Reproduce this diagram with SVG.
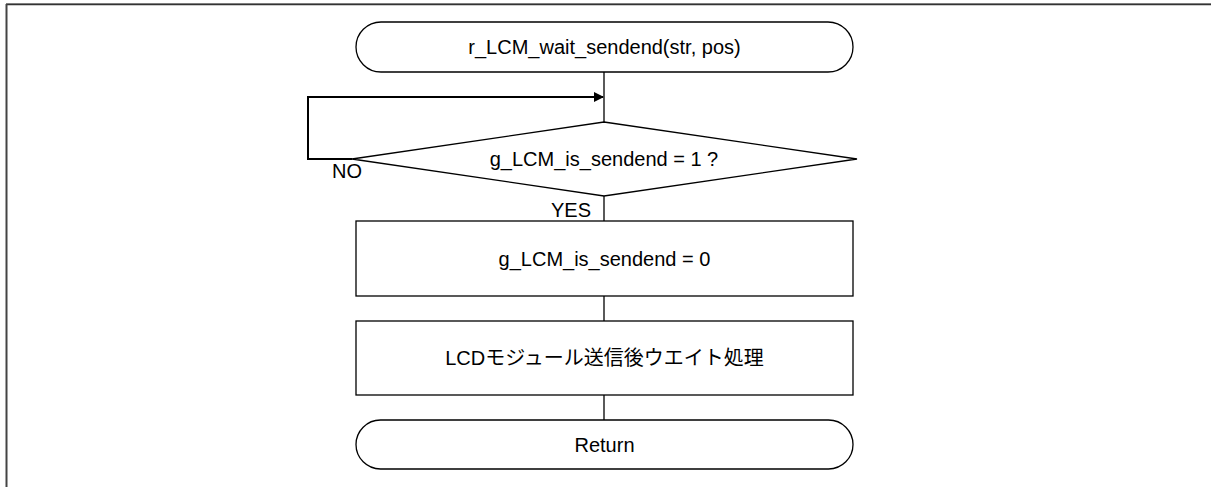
<svg xmlns="http://www.w3.org/2000/svg" width="1211" height="487" viewBox="0 0 1211 487">
<style>
.shape{fill:#fff;stroke:#000;stroke-width:1.3}
.conn{fill:none;stroke:#000;stroke-width:1.3}
.loop{fill:none;stroke:#000;stroke-width:2}
text{font-family:"Liberation Sans","Noto Sans CJK JP",Arial,sans-serif;font-size:20px;fill:#000;text-anchor:middle;dominant-baseline:central}
</style>
<defs>
<marker id="arr" markerWidth="10" markerHeight="10" refX="9" refY="5" orient="auto" markerUnits="userSpaceOnUse">
<path d="M0,0 L10,5 L0,10 z" fill="#000"/>
</marker>
</defs>
<rect width="1211" height="487" fill="#fff"/>
<g id="frame">
<line x1="6" y1="3.5" x2="1211" y2="3.5" stroke="#999" stroke-width="1"/>
<line x1="6" y1="4.5" x2="1211" y2="4.5" stroke="#333" stroke-width="1.5"/>
<line x1="6.5" y1="4" x2="6.5" y2="487" stroke="#444" stroke-width="2"/>
</g>
<g id="connectors">
<line class="conn" x1="604" y1="72" x2="604" y2="122"/>
<polyline class="loop" points="352,159 308,159 308,97 603,97" marker-end="url(#arr)"/>
<line class="conn" x1="604" y1="196" x2="604" y2="221"/>
<line class="conn" x1="604" y1="296" x2="604" y2="321"/>
<line class="conn" x1="604" y1="395" x2="604" y2="420"/>
<text x="347" y="171">NO</text>
<text x="571" y="210">YES</text>
</g>
<g id="start">
<rect class="shape" x="356" y="22" width="497" height="50" rx="25" ry="25"/>
<text x="604.5" y="47">r_LCM_wait_sendend(str, pos)</text>
</g>
<g id="decision">
<polygon class="shape" points="604,122 857,159 604,196 352,159"/>
<text x="604" y="159">g_LCM_is_sendend = 1 ?</text>
</g>
<g id="clear">
<rect class="shape" x="356" y="221" width="497" height="75"/>
<text x="604.5" y="259">g_LCM_is_sendend = 0</text>
</g>
<g id="wait">
<rect class="shape" x="356" y="321" width="497" height="74"/>
<text x="604.5" y="358">LCDモジュール送信後ウエイト処理</text>
</g>
<g id="return">
<rect class="shape" x="356" y="420" width="497" height="49" rx="24.5" ry="24.5"/>
<text x="604.5" y="445">Return</text>
</g>
</svg>
